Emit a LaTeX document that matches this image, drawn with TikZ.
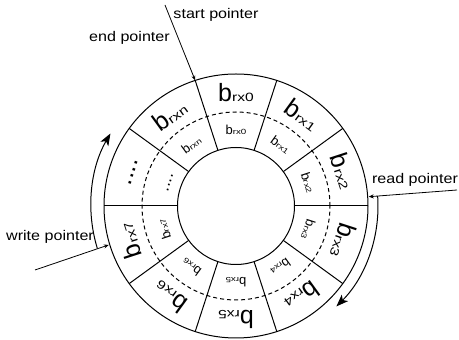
\documentclass[tikz,border=0pt]{standalone}
\usepackage{fontspec}
\usepackage{graphicx}
\setmainfont{Liberation Sans}
\usetikzlibrary{arrows.meta,calc}
\newcommand{\outerlab}[1]{{\fontsize{25}{25}\selectfont b}\scalebox{1.3}[1]{\fontsize{12}{12}\selectfont #1}}
\newcommand{\innerlab}[1]{{\fontsize{13}{13}\selectfont b}\scalebox{1.3}[1]{\fontsize{7.5}{7.5}\selectfont #1}}
\newcommand{\ptrtxt}[1]{\scalebox{1.15}[1]{#1}}
\begin{document}
\begin{tikzpicture}[x=1pt,y=1pt,
  ring/.style={line width=1pt},
  ptr/.style={line width=0.8pt,-{Stealth[length=5pt,width=4pt]}},
  mov/.style={line width=1pt,-{Stealth[length=12pt,width=9pt,inset=3pt]}},
  lbl/.style={inner sep=0pt,font=\fontsize{14}{14}\selectfont},
  seg/.style={inner sep=0pt}]
\useasboundingbox (0,0) rectangle (459,340);
\coordinate (C) at (236,134);
\begin{scope}[shift={(C)}]
  \draw[ring] (0,0) circle (132);
  \draw[ring] (0,0) circle (58.5);
  \draw[ring, dash pattern=on 4pt off 3pt] (0,0) circle (94);
  \foreach \a in {0,36,...,324} \draw[ring] (\a:58.5) -- (\a:132);
  \foreach \a/\t in {90/0,54/1,18/2,-18/3,-54/4,-90/5,-126/6,-162/7,126/n} {
    \node[seg,rotate={\a-90}] (o\t) at (\a:113) {\outerlab{rx\t}};
    \node[seg,rotate={\a-90}] (i\t) at (\a:76) {\innerlab{rx\t}};
  }
  \node[seg,rotate=72,font=\fontsize{25}{25}\selectfont] (odots) at (162:108) {....};
  \node[seg,rotate=72,font=\fontsize{17}{17}\selectfont] (idots) at (161:70) {....};
\end{scope}
% pointer labels
\node[lbl] (start) at (216,325) {\ptrtxt{start pointer}};
\node[lbl] (endp) at (129.5,302) {\ptrtxt{end pointer}};
\node[lbl] (read) at (415,160) {\ptrtxt{read pointer}};
\node[lbl] (write) at (50,103) {\ptrtxt{write pointer}};
% pointer arrows
\coordinate (sp0) at (165,335);
\coordinate (sp1) at ($(C)+(108:132)$);
\draw[ptr] (sp0) -- (sp1);
\coordinate (rp0) at (457,150);
\coordinate (rp1) at ($(C)+(4:133)$);
\draw[ptr] (rp0) -- (rp1);
\coordinate (wp0) at (35,70);
\coordinate (wp1) at ($(C)+(197:133)$);
\draw[ptr] (wp0) -- (wp1);
% movement arcs
\draw[mov] ($(C)+(4:142)$) arc[start angle=4,end angle=-45,radius=142];
\draw[mov] ($(C)+(197:145)$) arc[start angle=197,end angle=150,radius=145];
\end{tikzpicture}
\end{document}
